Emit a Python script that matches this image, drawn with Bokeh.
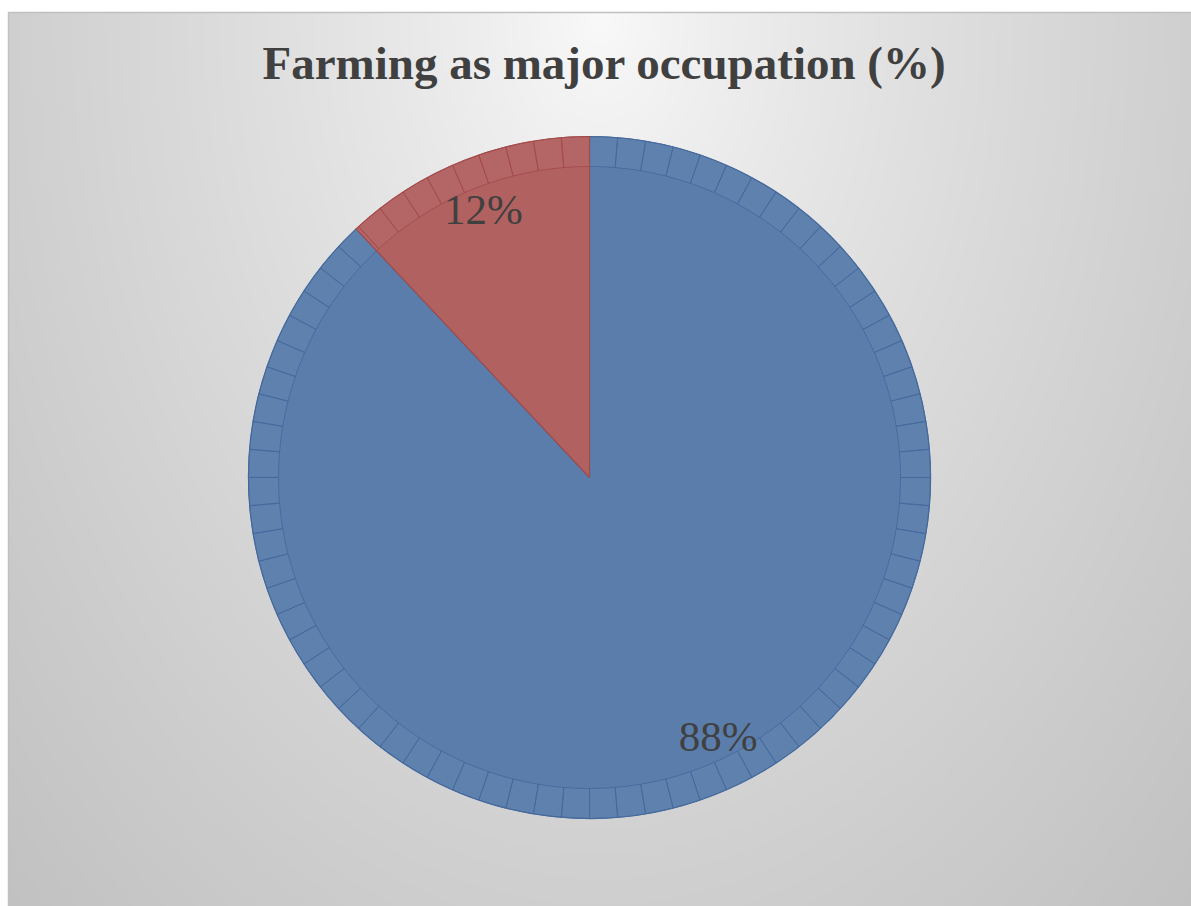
import numpy as np
from bokeh.plotting import figure
from bokeh.models import Range1d, Label
from bokeh.core.properties import value
from bokeh.embed import file_html
from bokeh.resources import INLINE

# ---- data ----
categories = ["Farming", "Other occupation"]
percent = [88, 12]
labels = ["88%", "12%"]
chart_title = "Farming as major occupation (%)"

# ---- style ----
slice_colors = ["#5a7dac", "#b26161"]
edge_colors = ["#44699c", "#a34a4a"]
label_radius = [0.85, 0.845]
label_shift_x = [22, 0]
label_shift_y = [10, 0]
n_facets = 76

W, H = 1191, 906
p = figure(width=W, height=H, x_range=Range1d(0, W), y_range=Range1d(0, H),
           output_backend="svg", toolbar_location=None, min_border=0)
p.axis.visible = False
p.grid.visible = False
p.outline_line_color = None
p.background_fill_color = "white"
p.border_fill_color = "white"

# background gradient of chart area
fx0, ftop = 8, 12
fw, fh = W - fx0, H - ftop
gw, gh = 400, 300
xs = np.linspace(0, 1, gw)
ys = np.linspace(0, 1, gh)
X, Y = np.meshgrid(xs, ys)
dx = (X * fw + fx0 - 600) / 600.0
dy = (1 - Y)
r = np.sqrt(dx ** 2 + dy ** 2)
v = np.clip(250 - 43 * r ** 0.8, 188, 252).astype(np.uint32)
img = (np.uint32(255) << 24) | (v << 16) | (v << 8) | v
p.image_rgba(image=[img.astype(np.uint32)], x=fx0, y=0, dw=fw, dh=fh)
p.quad(left=fx0, right=W + 5, bottom=-5, top=fh, fill_color=None,
       line_color="#c0c0c0", line_width=1.5)

# ---- pie ----
cx, cy = 589, H - 477
R, Rin = 341, 311
frac = np.array(percent, dtype=float) / sum(percent)
cum = np.concatenate([[0], np.cumsum(frac)])
start_t = cum[:-1]
end_t = cum[1:]
a_hi = np.pi / 2 - 2 * np.pi * start_t
a_lo = np.pi / 2 - 2 * np.pi * end_t

k = np.arange(n_facets + 1) / n_facets
for i in range(len(percent)):
    p.wedge(x=cx, y=cy, radius=R, start_angle=a_lo[i], end_angle=a_hi[i],
            fill_color=slice_colors[i], line_color=edge_colors[i], line_width=1.2)
    inner = k[(k > start_t[i] + 1e-6) & (k < end_t[i] - 1e-6)]
    b = np.concatenate([[start_t[i]], inner, [end_t[i]]])
    seg_hi = np.pi / 2 - 2 * np.pi * b[:-1]
    seg_lo = np.pi / 2 - 2 * np.pi * b[1:]
    p.annular_wedge(x=cx, y=cy, inner_radius=Rin, outer_radius=R,
                    start_angle=seg_lo, end_angle=seg_hi,
                    fill_color="white", fill_alpha=0.03,
                    line_color=edge_colors[i], line_width=1, line_alpha=0.85)

# labels
mid_t = (start_t + end_t) / 2
lx = cx + np.sin(2 * np.pi * mid_t) * R * np.array(label_radius) + np.array(label_shift_x)
ly = cy + np.cos(2 * np.pi * mid_t) * R * np.array(label_radius) + np.array(label_shift_y)
p.text(x=lx, y=ly, text=labels, text_align="center", text_baseline="middle",
       text_font=value("Liberation Serif"), text_font_size="43px", text_color="#404040")

p.add_layout(Label(x=604, y=H - 62, text=chart_title, text_align="center",
                   text_baseline="middle", text_font="Liberation Serif",
                   text_font_style="bold", text_font_size="47px", text_color="#404040"))

open("out.html", "w").write(file_html(p, INLINE))
